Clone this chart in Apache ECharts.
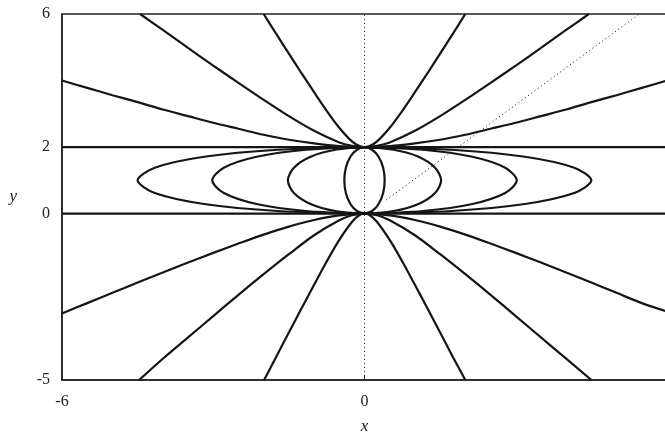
<!DOCTYPE html>
<html>
<head>
<meta charset="utf-8">
<script src="https://cdn.jsdelivr.net/npm/echarts@6/dist/echarts.min.js"></script>
<style>
  html, body { margin: 0; padding: 0; background: #fff; }
  #main { width: 665px; height: 433px; }
</style>
</head>
<body>
<div id="main"></div>
<script>
// tick labels that are printed on the axes
var xTickLabels = [-6, 0];
var yTickLabels = [6, 2, 0, -5];

// branches through (0,2), opening upward
var upper1 = [[-2, 6], [-1.75, 5.4], [-1.5, 4.81], [-1.25, 4.22], [-1, 3.65], [-0.75, 3.09], [-0.5, 2.58], [-0.25, 2.17], [-0.1, 2.03], [0, 2],
  [0.1, 2.03], [0.25, 2.17], [0.5, 2.58], [0.75, 3.09], [1, 3.65], [1.25, 4.22], [1.5, 4.81], [1.75, 5.4], [2, 6]];
var upper2 = [[-4.45, 6], [-4, 5.52], [-3.5, 4.98], [-3, 4.45], [-2.5, 3.93], [-2, 3.42], [-1.5, 2.93], [-1, 2.49], [-0.5, 2.14], [-0.25, 2.04], [0, 2],
  [0.25, 2.04], [0.5, 2.14], [1, 2.49], [1.5, 2.93], [2, 3.42], [2.5, 3.93], [3, 4.45], [3.5, 4.98], [4, 5.52], [4.45, 6]];
var upper3 = [[-6, 4], [-5.5, 3.78], [-5, 3.56], [-4.5, 3.35], [-4, 3.13], [-3.5, 2.93], [-3, 2.73], [-2.5, 2.55], [-2, 2.37], [-1.5, 2.22], [-1, 2.11], [-0.5, 2.03], [0, 2],
  [0.5, 2.03], [1, 2.11], [1.5, 2.22], [2, 2.37], [2.5, 2.55], [3, 2.73], [3.5, 2.93], [4, 3.13], [4.5, 3.35], [5, 3.56], [5.5, 3.78], [6, 4]];

// branches through (0,0), opening downward
var lower1 = [[-1.99, -5], [-1.75, -4.3], [-1.5, -3.57], [-1.25, -2.85], [-1, -2.14], [-0.75, -1.44], [-0.5, -0.79], [-0.25, -0.25], [-0.1, -0.04], [0, 0],
  [0.1, -0.04], [0.25, -0.25], [0.5, -0.79], [0.75, -1.44], [1, -2.14], [1.25, -2.85], [1.5, -3.57], [1.75, -4.3], [2, -5]];
var lower2 = [[-4.47, -5], [-4, -4.36], [-3.5, -3.72], [-3, -3.08], [-2.5, -2.44], [-2, -1.82], [-1.5, -1.22], [-1, -0.65], [-0.5, -0.2], [-0.25, -0.05], [0, 0],
  [0.25, -0.05], [0.5, -0.2], [1, -0.65], [1.5, -1.22], [2, -1.82], [2.5, -2.44], [3, -3.08], [3.5, -3.72], [4, -4.36], [4.5, -5]];
var lower3 = [[-6, -3], [-5.5, -2.69], [-5, -2.38], [-4.5, -2.07], [-4, -1.77], [-3.5, -1.47], [-3, -1.18], [-2.5, -0.9], [-2, -0.63], [-1.5, -0.39], [-1, -0.19], [-0.5, -0.05], [0, 0],
  [0.5, -0.05], [1, -0.19], [1.5, -0.39], [2, -0.63], [2.5, -0.9], [3, -1.18], [3.5, -1.47], [4, -1.77], [4.5, -2.07], [5, -2.38], [5.5, -2.69], [6, -2.94]];

// closed loops between (0,0) and (0,2)
var loop1 = [[0, 0], [0.15, 0.08], [0.28, 0.29], [0.37, 0.62], [0.4, 1], [0.37, 1.38], [0.28, 1.71], [0.15, 1.92], [0, 2],
  [-0.15, 1.92], [-0.28, 1.71], [-0.37, 1.38], [-0.4, 1], [-0.37, 0.62], [-0.28, 0.29], [-0.15, 0.08], [0, 0]];
var loop2 = [[0, 0], [0.58, 0.08], [1.07, 0.29], [1.4, 0.62], [1.52, 1], [1.4, 1.38], [1.07, 1.71], [0.58, 1.92], [0, 2],
  [-0.58, 1.92], [-1.07, 1.71], [-1.4, 1.38], [-1.52, 1], [-1.4, 0.62], [-1.07, 0.29], [-0.58, 0.08], [0, 0]];
var loop3 = [[0, 0], [1.16, 0.08], [2.14, 0.29], [2.79, 0.62], [3.02, 1], [2.79, 1.38], [2.14, 1.71], [1.16, 1.92], [0, 2],
  [-1.16, 1.92], [-2.14, 1.71], [-2.79, 1.38], [-3.02, 1], [-2.79, 0.62], [-2.14, 0.29], [-1.16, 0.08], [0, 0]];
var loop4 = [[0, 0], [1.72, 0.08], [3.18, 0.29], [4.16, 0.62], [4.5, 1], [4.16, 1.38], [3.18, 1.71], [1.72, 1.92], [0, 2],
  [-1.72, 1.92], [-3.18, 1.71], [-4.16, 1.38], [-4.5, 1], [-4.16, 0.62], [-3.18, 0.29], [-1.72, 0.08], [0, 0]];

// straight lines
var flat0 = [[-6, 0], [6, 0]];
var flat2 = [[-6, 2], [6, 2]];
var axisDots = [[0, -5], [0, 6]];
var slantDots = [[0.43, 0.41], [5.45, 6]];

var myChart = echarts.init(document.getElementById('main'));

var serif = '"Liberation Serif", "DejaVu Serif", serif';

function curve(data) {
    return {
        type: 'line',
        data: data,
        smooth: 0.3,
        showSymbol: false,
        silent: true,
        z: 3,
        lineStyle: { color: '#151515', width: 2.2 }
    };
}

function dotted(data) {
    return {
        type: 'line',
        data: data,
        showSymbol: false,
        silent: true,
        z: 2,
        lineStyle: { color: '#333', width: 1, type: [1.2, 2.8] }
    };
}

var option = {
    animation: false,
    backgroundColor: '#fff',
    grid: {
        left: 62,
        right: -2,
        top: 14,
        bottom: 53,
        containLabel: false,
        outerBoundsMode: 'none',
        show: true,
        borderColor: '#222',
        borderWidth: 1.5
    },
    xAxis: {
        type: 'value',
        min: -6,
        max: 6,
        interval: 6,
        name: 'x',
        nameLocation: 'middle',
        nameGap: 38,
        nameTextStyle: { fontFamily: serif, fontStyle: 'italic', fontSize: 17, color: '#222' },
        axisLine: { show: true, onZero: false, lineStyle: { color: '#222', width: 1.5 } },
        axisTick: { show: true, inside: true, length: 5, lineStyle: { color: '#222' } },
        splitLine: { show: false },
        axisLabel: {
            margin: 14,
            fontFamily: serif,
            fontSize: 16,
            color: '#222',
            formatter: function (v) {
                return xTickLabels.indexOf(v) >= 0 ? String(v) : '';
            }
        }
    },
    yAxis: {
        type: 'value',
        min: -5,
        max: 6,
        interval: 1,
        name: 'y',
        nameLocation: 'middle',
        nameRotate: 0,
        nameGap: 45,
        nameTextStyle: { fontFamily: serif, fontStyle: 'italic', fontSize: 17, color: '#222' },
        axisLine: { show: true, onZero: false, lineStyle: { color: '#222', width: 1.5 } },
        axisTick: { show: false },
        splitLine: { show: false },
        axisLabel: {
            margin: 12,
            fontFamily: serif,
            fontSize: 16,
            color: '#222',
            formatter: function (v) {
                return yTickLabels.indexOf(v) >= 0 ? String(v) : '';
            }
        }
    },
    series: [
        dotted(axisDots),
        dotted(slantDots),
        curve(flat0),
        curve(flat2),
        curve(upper1),
        curve(upper2),
        curve(upper3),
        curve(lower1),
        curve(lower2),
        curve(lower3),
        curve(loop1),
        curve(loop2),
        curve(loop3),
        curve(loop4)
    ]
};

myChart.setOption(option);
</script>
</body>
</html>
